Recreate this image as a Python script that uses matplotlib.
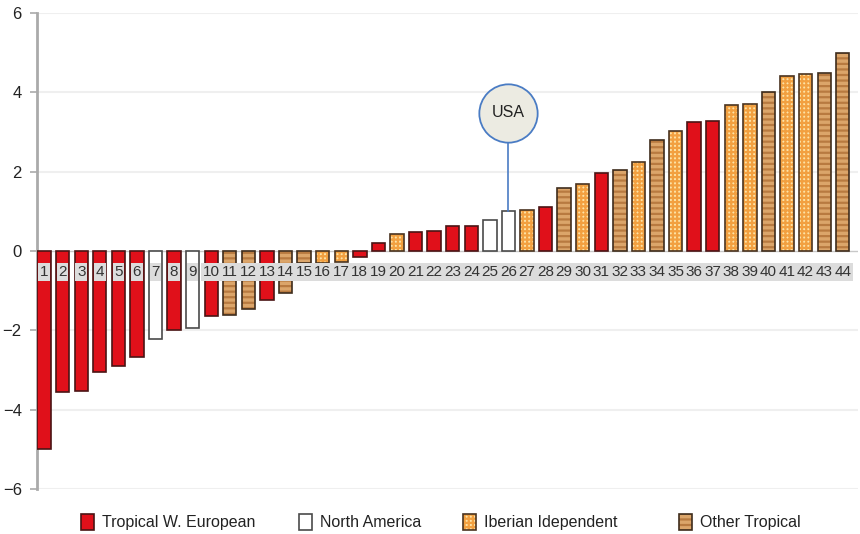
import numpy as np
import matplotlib.pyplot as plt
from matplotlib.patches import Rectangle

plt.rcParams['font.family'] = ['Liberation Sans', 'DejaVu Sans']
plt.rcParams['hatch.linewidth'] = 1.6

# Ranked scores, one bar per case (1..44)
case_ids = np.arange(1, 45)
scores = [-5.00, -3.55, -3.53, -3.04, -2.89, -2.66, -2.21, -1.98, -1.95, -1.64,
          -1.61, -1.45, -1.24, -1.05, -0.30, -0.30, -0.28, -0.15, 0.19, 0.42,
          0.48, 0.51, 0.63, 0.63, 0.78, 1.01, 1.04, 1.11, 1.60, 1.70,
          1.96, 2.05, 2.25, 2.80, 3.02, 3.26, 3.28, 3.69, 3.70, 4.01,
          4.40, 4.46, 4.49, 4.99]
# group of each case: T = Tropical W. European, N = North America,
# I = Iberian Idependent, O = Other Tropical
groups = list("TTTTTTNTNTOOTOOIITTITTTTNNITOITOIOITTIIOIIOO")

group_names = ["Tropical W. European", "North America", "Iberian Idependent", "Other Tropical"]
group_keys = ["T", "N", "I", "O"]
usa_case = 26

# face colour, hatch pattern, hatch colour, outline colour per group
styles = {
    "T": ("#e0101a", None, None, "#4a1414"),
    "N": ("#ffffff", None, None, "#4a4a4a"),
    "I": ("#fde3a6", "++++", "#f2a040", "#4a3420"),
    "O": ("#dba56a", "---", "#b87a40", "#3e2c1c"),
}

fig = plt.figure(figsize=(8.6, 5.34), dpi=100)
ax = fig.add_axes([37 / 860, 1 - 489 / 534, 821 / 860, 476 / 534])

scores = np.array(scores)
for key in group_keys:
    mask = np.array([g == key for g in groups])
    face, hatch, hcol, edge = styles[key]
    if hatch:
        # first pass draws the texture (hatch takes the edge colour)
        ax.bar(case_ids[mask], scores[mask], width=0.72, color=face,
               hatch=hatch, edgecolor=hcol, linewidth=0, zorder=2)
        face = "none"
    ax.bar(case_ids[mask], scores[mask], width=0.72, facecolor=face,
           edgecolor=edge, linewidth=1.2, zorder=3)

# case numbers in small grey boxes just under the zero line
for cid in case_ids:
    ax.text(cid, -0.53, str(cid), ha="center", va="center", fontsize=11,
            color="#333333", zorder=5,
            bbox=dict(boxstyle="square,pad=0.1", facecolor="#dcdcdc", edgecolor="none"))

# USA callout bubble
usa_y = 3.48
ax.plot([usa_case, usa_case], [scores[usa_case - 1], usa_y], color="#4a7cc4", lw=1.2, zorder=4)
ax.plot(usa_case, usa_y, marker="o", markersize=42, markerfacecolor="#ecebe2",
        markeredgecolor="#4a7cc4", markeredgewidth=1.3, zorder=6)
ax.text(usa_case, usa_y, "USA", ha="center", va="center", fontsize=11.5, color="#222222", zorder=7)

ax.set_xlim(0.62, 44.82)
ax.set_ylim(-6, 6)
ax.set_yticks([-6, -4, -2, 0, 2, 4, 6])
ax.set_yticklabels(["\u22126", "\u22124", "\u22122", "0", "2", "4", "6"])
ax.tick_params(axis="y", length=5, width=1.2, color="#aaaaaa", labelsize=12, labelcolor="#222222", pad=6)
ax.set_xticks([])
for y in [-6, -4, -2, 2, 4, 6]:
    ax.axhline(y, color="#efefef", lw=1.5, zorder=0)
ax.axhline(0, color="#c8c8c8", lw=1.0, zorder=1)
for side in ["top", "right", "bottom"]:
    ax.spines[side].set_visible(False)
ax.spines["left"].set_color("#aaaaaa")
ax.spines["left"].set_linewidth(2)

# legend laid out by hand along the bottom
legend_x = [81, 299, 463, 679]
for key, name, lx in zip(group_keys, group_names, legend_x):
    face, hatch, hcol, edge = styles[key]
    x0, y0 = lx / 860, 1 - 530 / 534
    w, h = 13 / 860, 16 / 534
    if hatch:
        fig.patches.append(Rectangle((x0, y0), w, h, transform=fig.transFigure,
                                     facecolor=face, hatch=hatch, edgecolor=hcol, linewidth=0))
        face = "none"
    fig.patches.append(Rectangle((x0, y0), w, h, transform=fig.transFigure,
                                 facecolor=face, edgecolor=edge, linewidth=1.2))
    fig.text((lx + 21) / 860, 1 - 527 / 534, name, ha="left", va="baseline",
             fontsize=11.5, color="#222222")

fig.savefig("out.png", dpi=100)
